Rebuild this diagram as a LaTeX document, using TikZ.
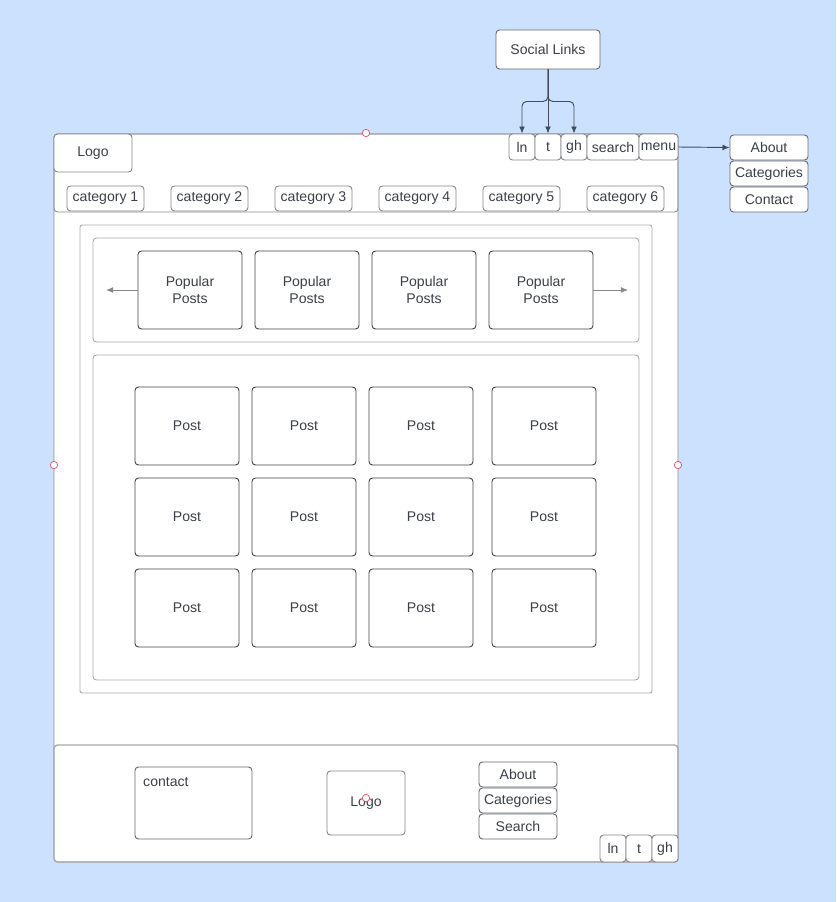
\documentclass[tikz,border=0pt]{standalone}
\usepackage{fontspec}
\setmainfont{Liberation Sans}
\usetikzlibrary{arrows.meta}

\definecolor{bgblue}{RGB}{204,225,253}
\definecolor{frame}{RGB}{140,140,148}
\definecolor{panel}{RGB}{170,170,174}
\definecolor{darkline}{RGB}{66,68,74}
\definecolor{lightline}{RGB}{135,135,140}
\definecolor{txt}{RGB}{60,64,72}
\definecolor{conn}{RGB}{66,76,92}
\definecolor{handle}{RGB}{222,80,106}

\tikzset{
  box/.style={draw=lightline, fill=white, rounded corners=3pt, inner sep=0pt, line width=0.8pt,
    text=txt, align=center, font=\fontsize{12}{14.5}\selectfont},
  postbox/.style={box, draw=darkline, minimum width=3.12cm, minimum height=2.34cm},
  iconbox/.style={box, minimum width=0.78cm, minimum height=0.78cm},
  menubox/.style={box, draw=darkline!80, minimum width=2.34cm, minimum height=0.75cm},
  link/.style={draw=conn, line width=0.8pt, -{Latex[length=6pt,width=5pt]}},
  handlemark/.style={draw=handle, fill=white, line width=0.6pt}
}

\begin{document}
\begin{tikzpicture}[x=0.03cm, y=-0.03cm]
    \fill[bgblue] (0,0) rectangle (836,902);
    \useasboundingbox (0,0) rectangle (836,902);

    % page frame
    \draw[frame, fill=white, line width=0.8pt, rounded corners=3pt] (54,134) rectangle (678,862);
    \draw[frame, line width=0.8pt, rounded corners=3pt] (54,134) rectangle (678,212);
    \draw[panel, line width=1.2pt, rounded corners=3pt] (54,745) rectangle (678,862);

    % header
    \node[box, minimum width=2.34cm, minimum height=1.14cm] (logo) at (93,153) {Logo};
    \foreach \i in {1,...,6}
        \node[box, minimum width=2.31cm, minimum height=0.75cm] (cat\i) at ({1.5+104*\i},198.5) {category \i};
    \node[iconbox] (ln) at (522,147) {ln};
    \node[iconbox] (tw) at (548,147) {t};
    \node[iconbox] (gh) at (574,147) {gh};
    \node[iconbox, minimum width=1.56cm] (search) at (613,147) {search};
    \node[iconbox, minimum width=1.17cm] (menu) at (658.5,147) {menu};

    \node[box, draw=darkline!80, minimum width=3.12cm, minimum height=1.17cm] (social) at (548,49.5) {Social Links};
    \draw[link] (social.south) -- (tw.north);
    \draw[link, rounded corners=4pt] (social.south) -- ++(0,32) -| (ln.north);
    \draw[link, rounded corners=4pt] (social.south) -- ++(0,32) -| (gh.north);

    % side menu
    \node[menubox] (about) at (769,147.5) {About};
    \node[menubox] (cats) at (769,173.5) {Categories};
    \node[menubox] (contact) at (769,199.5) {Contact};
    \draw[link] (menu.east) -- (about.west);

    % content
    \draw[panel, line width=0.8pt, rounded corners=2pt] (80,225) rectangle (652,693);
    \draw[panel, line width=0.8pt, rounded corners=3pt] (93,238) rectangle (639,342);
    \draw[panel, line width=0.8pt, rounded corners=3pt] (93,355) rectangle (639,680);

    \foreach \x [count=\k] in {190,307,424,541}
        \node[postbox] (pop\k) at (\x,290) {Popular\\Posts};
    \coordinate (prevend) at (106,290);
    \coordinate (nextend) at (628,290);
    \draw[link, draw=panel!80!black] (pop1.west) -- (prevend);
    \draw[link, draw=panel!80!black] (pop4.east) -- (nextend);

    \foreach \y [count=\r] in {426,517,608}
        \foreach \x [count=\c] in {187,304,421,544}
            \node[postbox] (post\r\c) at (\x,\y) {Post};

    % footer
    \node[box, draw=darkline!80, minimum width=3.51cm, minimum height=2.16cm] (fcontact) at (193.5,803) {};
    \node[anchor=west, text=txt, font=\fontsize{12}{14.5}\selectfont, inner sep=0pt] at (143,782) {contact};
    \node[box, minimum width=2.34cm, minimum height=1.92cm] (flogo) at (366,803) {Logo};
    \node[menubox] (fabout) at (518,774.5) {About};
    \node[menubox] (fcats) at (518,800.5) {Categories};
    \node[menubox] (fsearch) at (518,826.5) {Search};
    \node[iconbox, minimum height=0.81cm] (fln) at (613,848.5) {ln};
    \node[iconbox, minimum height=0.81cm] (ftw) at (639,848.5) {t};
    \node[iconbox, minimum height=0.81cm] (fgh) at (665,848.5) {gh};

    % selection handles
    \foreach \p in {(366,133),(54,465),(678,465),(366,798)}
        \draw[handlemark] \p circle (0.11cm);
\end{tikzpicture}
\end{document}
